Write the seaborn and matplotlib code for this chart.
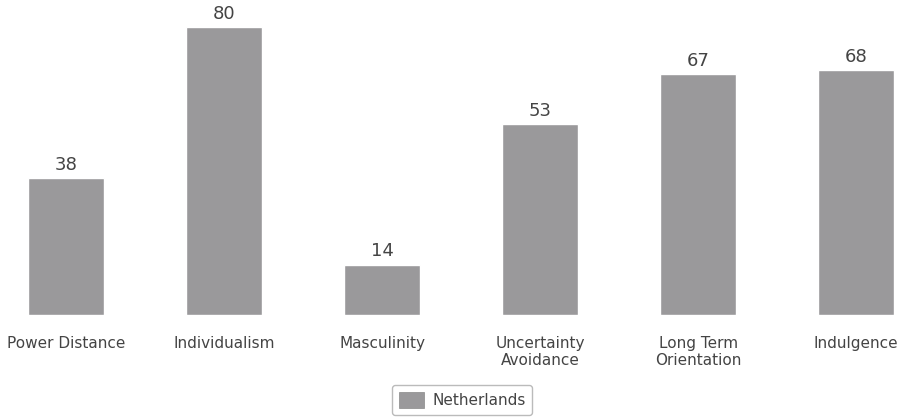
import matplotlib
matplotlib.use("Agg")
import matplotlib.pyplot as plt
import seaborn as sns
import pandas as pd

# Hofstede scores, Netherlands
dimensions = ["Power Distance", "Individualism", "Masculinity",
              "Uncertainty\nAvoidance", "Long Term\nOrientation", "Indulgence"]
scores = [38, 80, 14, 53, 67, 68]
country = "Netherlands"

df = pd.DataFrame({"dimension": dimensions, "score": scores, "country": country})

sns.set_style("white")
plt.rcParams["font.family"] = ["DejaVu Sans"]

fig = plt.figure(figsize=(9.03, 4.2), dpi=100)
ax = fig.add_axes([0, 0.25, 1, 0.7286])

bar_color = "#9a999b"
sns.barplot(data=df, x="dimension", y="score", hue="country", palette=[bar_color],
            width=0.48, saturation=1, ax=ax, legend=False)

ax.set_xlim(-0.418, 5.297)
ax.set_ylim(0, 85)
for c in ax.containers:
    ax.bar_label(c, labels=[str(v) for v in scores], padding=3, fontsize=13, color="#444444")

ax.set_xlabel("")
ax.set_ylabel("")
ax.set_yticks([])
ax.tick_params(axis="x", length=0, pad=15, labelsize=11, labelcolor="#444444")
sns.despine(ax=ax, left=True, bottom=True)

handle = plt.Rectangle((0, 0), 1, 1, facecolor=bar_color, edgecolor="#888888", linewidth=0.5)
leg = fig.legend([handle], [country], loc="center", bbox_to_anchor=(462 / 903, 1 - 400 / 420),
                 frameon=True, fancybox=True, fontsize=11, handlelength=1.7, handleheight=1.3,
                 borderpad=0.45, handletextpad=0.5, edgecolor="#aaaaaa")
leg.get_frame().set_linewidth(1)
for t in leg.get_texts():
    t.set_color("#444444")

fig.savefig("out.png", dpi=100)
